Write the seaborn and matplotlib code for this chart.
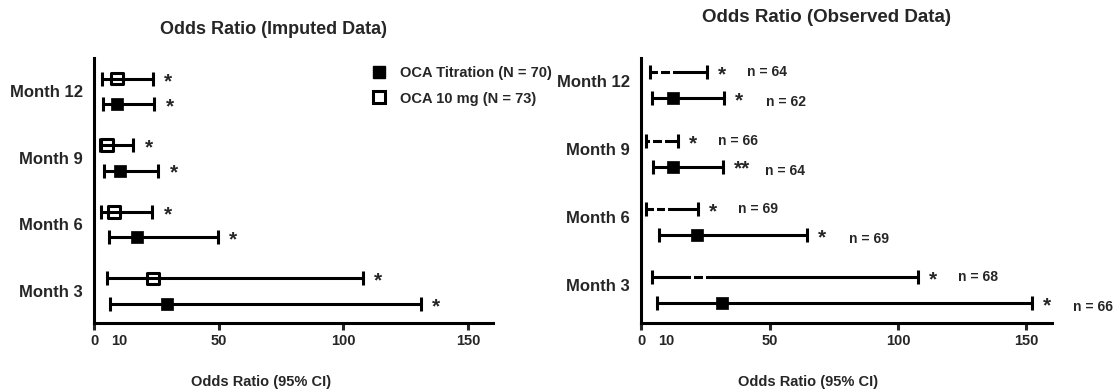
import matplotlib
matplotlib.use("Agg")
import matplotlib.pyplot as plt
from matplotlib.lines import Line2D
import seaborn as sns
import pandas as pd

# ---- data -------------------------------------------------------------
months = ["Month 3", "Month 6", "Month 9", "Month 12"]

# Imputed data: odds ratio with 95% CI
imp_titr_or = [29.3, 17.3, 10.5, 9.4]
imp_titr_lo = [6.4, 6.0, 4.1, 3.7]
imp_titr_hi = [131.0, 49.8, 25.8, 24.2]
imp_titr_sig = ["*", "*", "*", "*"]

imp_10mg_or = [23.7, 8.1, 5.1, 9.2]
imp_10mg_lo = [5.2, 2.8, 2.4, 3.2]
imp_10mg_hi = [108.0, 23.4, 15.8, 23.6]
imp_10mg_sig = ["*", "*", "*", "*"]

# Observed data: odds ratio with 95% CI and sample sizes
obs_titr_or = [31.5, 21.8, 12.5, 12.5]
obs_titr_lo = [6.2, 7.0, 4.7, 4.3]
obs_titr_hi = [152.0, 64.6, 31.9, 32.3]
obs_titr_sig = ["*", "*", "**", "*"]
obs_titr_n = [66, 69, 64, 62]

obs_10mg_or = [22.2, 7.5, 6.3, 9.3]
obs_10mg_lo = [4.3, 1.9, 1.9, 3.5]
obs_10mg_hi = [107.8, 22.2, 14.4, 25.7]
obs_10mg_sig = ["*", "*", "*", "*"]
obs_10mg_n = [68, 69, 66, 64]

legend_labels = ["OCA Titration (N = 70)", "OCA 10 mg (N = 73)"]
x_ticks = [0, 50, 100, 150]
x_minor_ticks = [10]

# ---- style ------------------------------------------------------------
sns.set_style("ticks")
plt.rcParams["font.family"] = ["Liberation Sans", "DejaVu Sans"]
plt.rcParams["font.weight"] = "bold"

LW = 2.2
OFF = 0.19

fig = plt.figure(figsize=(11.17, 3.92), dpi=100)
ax_l = fig.add_axes([0.0842, 0.176, 0.357, 0.676])
ax_r = fig.add_axes([0.5739, 0.176, 0.368, 0.676])


def draw_series(ax, y, orv, lo, hi, filled, edge):
    xerr = [[o - l for o, l in zip(orv, lo)], [h - o for o, h in zip(orv, hi)]]
    ax.errorbar(orv, y, xerr=xerr, fmt="none", ecolor="black", elinewidth=LW,
                capsize=5, capthick=LW, zorder=2)
    df = pd.DataFrame({"or": orv, "y": y})
    if filled:
        sns.scatterplot(data=df, x="or", y="y", ax=ax, marker="s", s=80,
                        color="black", edgecolor="black", linewidth=0.5,
                        zorder=3, legend=False)
    else:
        sns.scatterplot(data=df, x="or", y="y", ax=ax, marker="s", s=70,
                        facecolor="none", edgecolor=edge, linewidth=2.2,
                        zorder=3, legend=False)


def annotate(ax, y, hi, sig, n=None, n_dx=42, n_dy=0):
    for yy, h, s in zip(y, hi, sig):
        ax.annotate(s, (h, yy), xytext=(8, -2), textcoords="offset points",
                    ha="left", va="center", fontsize=15, fontweight="bold")
    if n is not None:
        for yy, h, nn in zip(y, hi, n):
            ax.annotate(f"n = {nn}", (h, yy), xytext=(n_dx, n_dy),
                        textcoords="offset points", ha="left", va="center",
                        fontsize=10, fontweight="bold")


def style_axes(ax, ylim, label_shift, xlabel_x):
    ax.set_xlim(0, 160)
    ax.set_ylim(*ylim)
    ax.set_yticks([p + label_shift for p in range(len(months))])
    ax.set_yticklabels(months, fontsize=12, fontweight="bold")
    ax.tick_params(axis="y", length=0, pad=8)
    ax.set_xticks(x_ticks)
    ax.set_xticks(x_minor_ticks, minor=True)
    ax.set_xticklabels([str(t) for t in x_ticks], fontsize=10.5,
                       fontweight="bold")
    ax.set_xticklabels([str(t) for t in x_minor_ticks], minor=True,
                       fontsize=10.5, fontweight="bold")
    ax.tick_params(axis="x", which="major", length=5, width=LW, pad=3)
    ax.tick_params(axis="x", which="minor", length=0, pad=8)
    for side in ("top", "right"):
        ax.spines[side].set_visible(False)
    for side in ("left", "bottom"):
        ax.spines[side].set_linewidth(LW)
        ax.spines[side].set_color("black")
    ax.set_xlabel("Odds Ratio (95% CI)", fontsize=10.5, fontweight="bold")
    ax.xaxis.set_label_coords(xlabel_x, -0.195)
    ax.set_ylabel("")


pos = list(range(len(months)))
y_titr = [p - OFF for p in pos]
y_10mg = [p + OFF for p in pos]

# Left panel: imputed data
draw_series(ax_l, y_titr, imp_titr_or, imp_titr_lo, imp_titr_hi, True, "black")
draw_series(ax_l, y_10mg, imp_10mg_or, imp_10mg_lo, imp_10mg_hi, False, "black")
annotate(ax_l, y_titr, imp_titr_hi, imp_titr_sig)
annotate(ax_l, y_10mg, imp_10mg_hi, imp_10mg_sig)
style_axes(ax_l, (-0.48, 3.5), 0.0, 0.42)

handles = [
    Line2D([], [], linestyle="none", marker="s", markersize=9,
           markerfacecolor="black", markeredgecolor="black"),
    Line2D([], [], linestyle="none", marker="s", markersize=8,
           markerfacecolor="none", markeredgecolor="black", markeredgewidth=2.2),
]
leg = ax_l.legend(handles, legend_labels, loc="upper left",
                  bbox_to_anchor=(0.66, 1.02), frameon=False,
                  prop={"size": 10.5, "weight": "bold"}, handletextpad=0.8,
                  labelspacing=0.8, handlelength=1.2)

# Right panel: observed data (10 mg series drawn without a visible marker)
draw_series(ax_r, y_titr, obs_titr_or, obs_titr_lo, obs_titr_hi, True, "black")
draw_series(ax_r, y_10mg, obs_10mg_or, obs_10mg_lo, obs_10mg_hi, False, "white")
annotate(ax_r, y_titr, obs_titr_hi, obs_titr_sig, obs_titr_n, n_dx=30, n_dy=-3)
annotate(ax_r, y_10mg, obs_10mg_hi, obs_10mg_sig, obs_10mg_n, n_dx=29, n_dy=0)
style_axes(ax_r, (-0.48, 3.4), 0.07, 0.406)

fig.text(274 / 1117, 1 - 29 / 392, "Odds Ratio (Imputed Data)", ha="center",
         va="center", fontsize=13, fontweight="bold")
fig.text(827 / 1117, 1 - 17 / 392, "Odds Ratio (Observed Data)", ha="center",
         va="center", fontsize=13.5, fontweight="bold")

fig.savefig("out.png", dpi=100, facecolor="white")
